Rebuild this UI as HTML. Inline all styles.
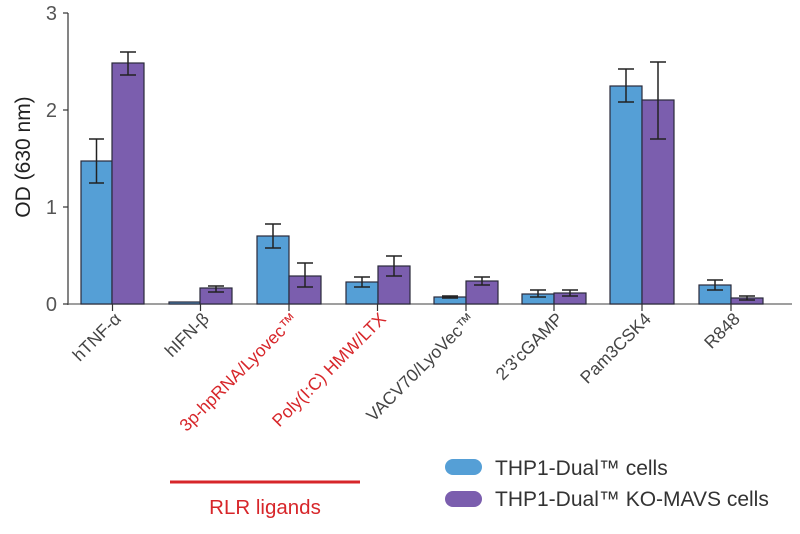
<!DOCTYPE html>
<html><head><meta charset="utf-8"><style>
html,body{margin:0;padding:0;background:#fff;}
svg{display:block;font-family:"Liberation Sans",sans-serif;}
</style></head><body>
<svg width="800" height="534" viewBox="0 0 800 534" xmlns="http://www.w3.org/2000/svg">
<g stroke="#333" stroke-width="1.2" fill="none">
<line x1="68" y1="13" x2="68" y2="305"/>
<line x1="68" y1="304" x2="792" y2="304" stroke="#666"/>
<line x1="63" y1="13" x2="68" y2="13"/>
<line x1="63" y1="110" x2="68" y2="110"/>
<line x1="63" y1="207" x2="68" y2="207"/>
<line x1="63" y1="304" x2="68" y2="304"/>
</g>
<g font-size="20" fill="#555" text-anchor="end">
<text x="57" y="20">3</text><text x="57" y="117">2</text><text x="57" y="214">1</text><text x="57" y="311">0</text>
</g>
<text transform="translate(30,157) rotate(-90)" font-size="21" fill="#222" text-anchor="middle">OD (630 nm)</text>
<g stroke="#2a2a3a" stroke-width="1.2">
<g fill="#559fd6">
<rect x="81" y="161" width="31" height="143"/>
<rect x="169" y="302" width="31" height="2"/>
<rect x="257" y="236" width="32" height="68"/>
<rect x="346" y="282" width="32" height="22"/>
<rect x="434" y="297" width="32" height="7"/>
<rect x="522" y="294" width="32" height="10"/>
<rect x="610" y="86" width="32" height="218"/>
<rect x="699" y="285" width="32" height="19"/>
</g>
<g fill="#7b5eae">
<rect x="112" y="63" width="32" height="241"/>
<rect x="200" y="288" width="32" height="16"/>
<rect x="289" y="276" width="32" height="28"/>
<rect x="378" y="266" width="32" height="38"/>
<rect x="466" y="281" width="32" height="23"/>
<rect x="554" y="293" width="32" height="11"/>
<rect x="642" y="100" width="32" height="204"/>
<rect x="731" y="298" width="32" height="6"/>
</g>
</g>
<g stroke="#222" stroke-width="1.5" fill="none">
<path d="M96.5 139V183M89 139H104M89 183H104"/>
<path d="M128 52V75M120 52H136M120 75H136"/>
<path d="M216 286V292M208 286H224M208 292H224"/>
<path d="M273 224V248M265 224H281M265 248H281"/>
<path d="M305 263V287M297 263H313M297 287H313"/>
<path d="M362 277V287M354 277H370M354 287H370"/>
<path d="M394 256V276M386 256H402M386 276H402"/>
<path d="M450 296V298M442 296H458M442 298H458"/>
<path d="M482 277V285M474 277H490M474 285H490"/>
<path d="M538 290V297M530 290H546M530 297H546"/>
<path d="M570 290V296M562 290H578M562 296H578"/>
<path d="M626 69V102M618 69H634M618 102H634"/>
<path d="M658 62V139M650 62H666M650 139H666"/>
<path d="M715 280V290M707 280H723M707 290H723"/>
<path d="M747 296V300M739 296H755M739 300H755"/>
</g>
<g stroke="#333" stroke-width="1.2">
<line x1="112.5" y1="304" x2="112.5" y2="311"/>
<line x1="200.5" y1="304" x2="200.5" y2="311"/>
<line x1="289" y1="304" x2="289" y2="311"/>
<line x1="377.5" y1="304" x2="377.5" y2="311"/>
<line x1="466" y1="304" x2="466" y2="311"/>
<line x1="554" y1="304" x2="554" y2="311"/>
<line x1="642" y1="304" x2="642" y2="311"/>
<line x1="731" y1="304" x2="731" y2="311"/>
</g>
<g font-size="17.5" fill="#444" text-anchor="end">
<text transform="translate(122,320) rotate(-45)">hTNF-α</text>
<text transform="translate(210,320) rotate(-45)">hIFN-β</text>
<text transform="translate(299,320) rotate(-45)" fill="#d7262a">3p-hpRNA/Lyovec™</text>
<text transform="translate(387,320) rotate(-45)" fill="#d7262a">Poly(I:C) HMW/LTX</text>
<text transform="translate(476,320) rotate(-45)">VACV70/LyoVec™</text>
<text transform="translate(564,320) rotate(-45)">2'3'cGAMP</text>
<text transform="translate(652,320) rotate(-45)">Pam3CSK4</text>
<text transform="translate(741,320) rotate(-45)">R848</text>
</g>
<line x1="170" y1="482" x2="360" y2="482" stroke="#d7262a" stroke-width="3"/>
<text x="265" y="514" font-size="20.5" fill="#d7262a" text-anchor="middle">RLR ligands</text>
<rect x="445" y="459" width="37" height="16" rx="8" fill="#559fd6"/>
<rect x="445" y="491" width="37" height="16" rx="8" fill="#7b5eae"/>
<g font-size="21" fill="#333">
<text x="495" y="475">THP1-Dual™ cells</text>
<text x="495" y="506">THP1-Dual™ KO-MAVS cells</text>
</g>
</svg>
</body></html>
